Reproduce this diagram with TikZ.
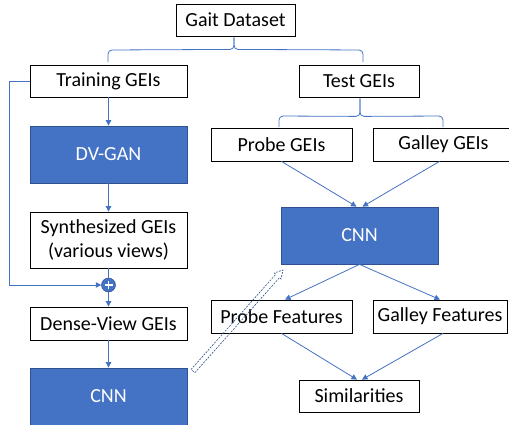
\documentclass[tikz,border=0pt]{standalone}
\usepackage{fontspec}
\setmainfont{Carlito}
\usetikzlibrary{arrows.meta,calc}
\definecolor{accent}{HTML}{4472C4}
\definecolor{accentdark}{HTML}{2F528F}
\begin{document}
\begin{tikzpicture}[x=1pt,y=-1pt,
  wbox/.style={draw=black, line width=0.8pt, fill=white, inner sep=0pt,
    font=\fontsize{20}{24}\selectfont, text=black, align=center},
  bbox/.style={draw=accentdark, line width=0.8pt, fill=accent, inner sep=0pt,
    font=\fontsize{20}{24}\selectfont, text=white, align=center},
  conn/.style={draw=accent, line width=0.8pt},
  arr/.style={conn, -{Triangle[length=5.5pt,width=5.5pt]}},
  brace/.style={conn, rounded corners=4pt},
  hollow/.style={draw=accentdark, line width=0.6pt, dash pattern=on 2pt off 1.2pt}
]
\useasboundingbox (0,0) rectangle (509,424);

% left column
\node[wbox, minimum width=119pt, minimum height=32pt] (gait) at (235.5,20) {Gait Dataset};
\node[wbox, minimum width=157pt, minimum height=32pt] (train) at (108.5,81) {Training GEIs};
\node[bbox, minimum width=157pt, minimum height=57pt] (dvgan) at (108.5,154.5) {DV-GAN};
\node[wbox, minimum width=157pt, minimum height=56pt] (synth) at (108.5,240) {Synthesized GEIs\\(various views)};
\node[circle, fill=accent, draw=accentdark, line width=0.5pt, minimum size=14pt, inner sep=0pt] (plus) at (108.5,285) {};
\node[wbox, minimum width=157pt, minimum height=33pt] (dense) at (108.5,323.5) {Dense-View GEIs};
\node[bbox, minimum width=157pt, minimum height=57pt] (cnnL) at (108.5,396.5) {CNN};

% right column
\node[wbox, minimum width=120pt, minimum height=32pt] (test) at (359,81) {Test GEIs};
\node[wbox, minimum width=141pt, minimum height=33pt] (probeG) at (281.5,144.5) {Probe GEIs};
\node[wbox, minimum width=141pt, minimum height=33pt] (galleyG) at (443.5,144.5) {Galley GEIs};
\node[bbox, minimum width=157pt, minimum height=57pt] (cnnR) at (359.5,235.5) {CNN};
\node[wbox, minimum width=141pt, minimum height=33pt] (probeF) at (281.5,316.5) {Probe Features};
\node[wbox, minimum width=134pt, minimum height=33pt] (galleyF) at (440,316.5) {Galley Features};
\node[wbox, minimum width=120pt, minimum height=32pt] (sim) at (359,396) {Similarities};

% plus sign
\draw[white, line width=1.3pt] ($(plus)+(-4,0)$) -- ($(plus)+(4,0)$);
\draw[white, line width=1.3pt] ($(plus)+(0,-4)$) -- ($(plus)+(0,4)$);

% braces
\coordinate (gb) at ($(gait.south)+(-1.5,13)$);
\draw[brace] (108,62) -- (108,50) -- (gb) -- ($(gait.south)+(-1.5,1)$);
\draw[brace] (363,62) -- (363,50) -- (gb) -- ($(gait.south)+(-1.5,1)$);
\coordinate (tb) at ($(test.south)+(1,19)$);
\draw[brace] (279,127) -- (279,116) -- (tb) -- ($(test.south)+(1,1)$);
\draw[brace] (443,127) -- (443,116) -- (tb) -- ($(test.south)+(1,1)$);

% left chain
\draw[arr] (train.south) -- (dvgan.north);
\draw[arr] (dvgan.south) -- (synth.north);
\draw[conn] (synth.south) -- (plus.north);
\draw[arr] (plus.south) -- (dense.north);
\draw[arr] (dense.south) -- (cnnL.north);
\draw[arr] (train.west) -- ++(-20,0) |- (plus.west);

% right chain
\draw[arr] (probeG.south) -- ($(cnnR.north)+(-3,0)$);
\draw[arr] ($(galleyG.south)+(-4,0)$) -- ($(cnnR.north)+(3,0)$);
\draw[arr] (cnnR.south) -- ($(probeF.north)+(3.5,0)$);
\draw[arr] (cnnR.south) -- (galleyF.north);
\draw[arr] (probeF.south) -- ($(sim.north)+(-2,0)$);
\draw[arr] ($(galleyF.south)+(3,0)$) -- ($(sim.north)+(3,0)$);

% hollow dashed arrow between the two CNNs
\draw[hollow] (194.87,372.66) -- (279.52,277.63) -- (281.01,278.96) -- (283,270)
  -- (274.29,272.98) -- (275.78,274.31) -- (191.13,369.34) -- cycle;
\end{tikzpicture}
\end{document}
